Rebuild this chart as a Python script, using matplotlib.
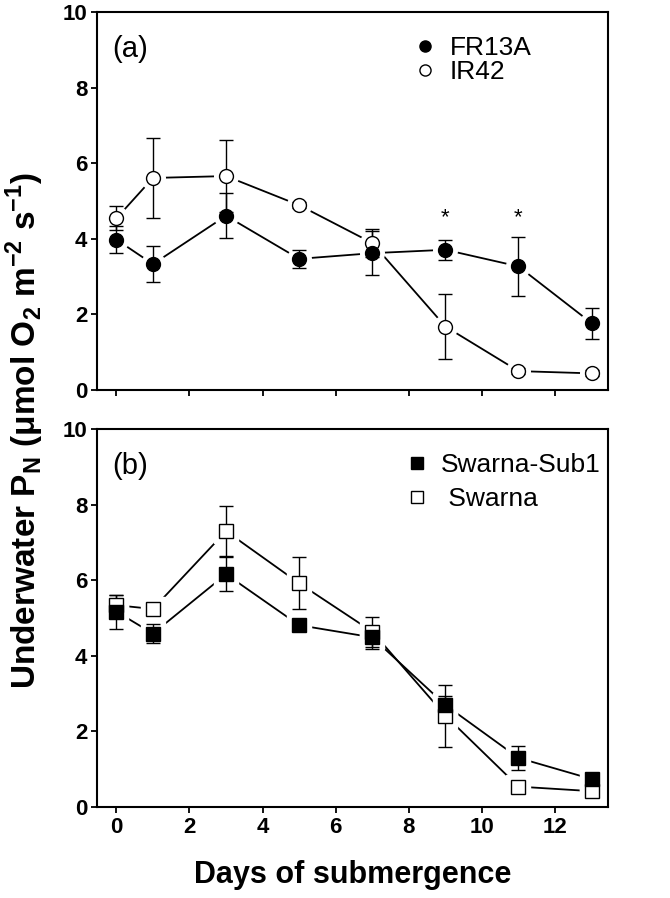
import numpy as np
import matplotlib
matplotlib.use('Agg')
import matplotlib.pyplot as plt
from matplotlib.lines import Line2D

plt.rcParams['font.family'] = ['Liberation Sans', 'DejaVu Sans']

# Days of submergence
days = [0, 1, 3, 5, 7, 9, 11, 13]

# Panel (a)
fr13a = [3.98, 3.33, 4.61, 3.47, 3.62, 3.71, 3.27, 1.77]
fr13a_err = [0.35, 0.47, 0.60, 0.23, 0.58, 0.27, 0.79, 0.41]
ir42 = [4.54, 5.61, 5.66, 4.89, 3.89, 1.68, 0.50, 0.44]
ir42_err = [0.32, 1.06, 0.95, 0.08, 0.37, 0.86, 0.08, 0.08]
star_days = [9, 11]
star_y = [4.55, 4.55]

# Panel (b)
sub1 = [5.17, 4.59, 6.16, 4.81, 4.49, 2.70, 1.30, 0.74]
sub1_err = [0.45, 0.25, 0.45, 0.10, 0.30, 0.25, 0.31, 0.08]
swarna = [5.34, 5.24, 7.30, 5.92, 4.64, 2.42, 0.54, 0.42]
swarna_err = [0.27, 0.08, 0.67, 0.69, 0.40, 0.82, 0.08, 0.08]

y_ticks = [0, 2, 4, 6, 8, 10]
x_ticks = [0, 2, 4, 6, 8, 10, 12]

fig = plt.figure(figsize=(6.7, 8.98), dpi=100)
ax_a = fig.add_axes([0.1448, 0.5657, 0.7627, 0.4209])
ax_b = fig.add_axes([0.1448, 0.1013, 0.7627, 0.4209])


def draw_series(ax, y, err, marker, filled):
    # connecting line with gaps around markers (white halo)
    ax.plot(days, y, color='black', lw=1.3, zorder=1)
    ax.plot(days, y, ls='none', marker=marker, ms=17, mfc='white', mec='white', zorder=2)
    ax.errorbar(days, y, yerr=err, fmt='none', ecolor='black', elinewidth=1.0,
                capsize=5, capthick=1.0, zorder=3)
    ax.plot(days, y, ls='none', marker=marker, ms=10,
            mfc='black' if filled else 'white', mec='black', mew=1.0, zorder=4)


draw_series(ax_a, ir42, ir42_err, 'o', False)
draw_series(ax_a, fr13a, fr13a_err, 'o', True)
for d, s in zip(star_days, star_y):
    ax_a.text(d, s, '*', ha='center', va='center', fontsize=16)

draw_series(ax_b, swarna, swarna_err, 's', False)
draw_series(ax_b, sub1, sub1_err, 's', True)

for ax, tag in [(ax_a, '(a)'), (ax_b, '(b)')]:
    ax.set_xlim(-0.53, 13.45)
    ax.set_ylim(0, 10)
    ax.set_yticks(y_ticks)
    ax.set_xticks(x_ticks)
    for sp in ax.spines.values():
        sp.set_linewidth(1.5)
    ax.tick_params(direction='out', length=4, width=1.3, pad=3, labelsize=16)
    for lab in ax.get_yticklabels() + ax.get_xticklabels():
        lab.set_fontweight('bold')
    ax.text(0.03, 0.94, tag, transform=ax.transAxes, fontsize=21, ha='left', va='top')

ax_a.tick_params(axis='x', labelbottom=False)

leg_a = [Line2D([], [], ls='none', marker='o', ms=8, mfc='black', mec='black', label='FR13A'),
         Line2D([], [], ls='none', marker='o', ms=8, mfc='white', mec='black', label='IR42')]
ax_a.legend(handles=leg_a, loc='upper left', bbox_to_anchor=(0.6, 0.965), frameon=False,
            fontsize=19, handlelength=0.8, handletextpad=0.55, labelspacing=0.02,
            borderaxespad=0)

leg_b = [Line2D([], [], ls='none', marker='s', ms=8, mfc='black', mec='black', label='Swarna-Sub1'),
         Line2D([], [], ls='none', marker='s', ms=8, mfc='white', mec='black', label=' Swarna')]
ax_b.legend(handles=leg_b, loc='upper left', bbox_to_anchor=(0.585, 0.965), frameon=False,
            fontsize=19, handlelength=0.8, handletextpad=0.5, labelspacing=0.4,
            borderaxespad=0)

fig.text(0.037, 0.521,
         r'Underwater P$_\mathregular{N}$ ($\mathregular{\mu}$mol O$_\mathregular{2}$ m$^\mathregular{-2}$ s$^\mathregular{-1}$)',
         rotation=90, ha='center', va='center', fontsize=24, fontweight='bold')
fig.text(0.527, 0.026, 'Days of submergence', ha='center', va='center',
         fontsize=22, fontweight='bold')

fig.savefig('out.png', dpi=100)
